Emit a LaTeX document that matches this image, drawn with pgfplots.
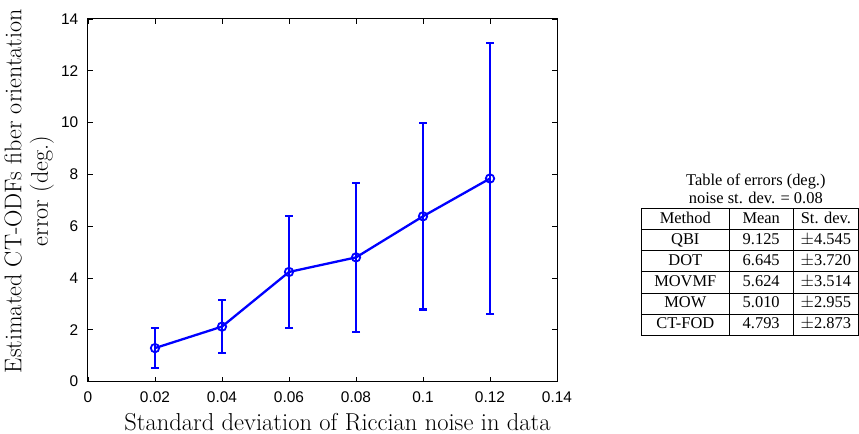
\documentclass[border=0pt]{standalone}
\usepackage{pgfplots}
\pgfplotsset{compat=1.18}
\usepackage{fontspec}
\usepackage{array}
\usetikzlibrary{calc}
\newfontfamily\helv{Liberation Sans}
\newfontfamily\tms{Liberation Serif}

\begin{document}
\begin{tikzpicture}
\begin{axis}[
  scale only axis,
  width=469bp, height=362.5bp,
  xmin=0, xmax=0.14, ymin=0, ymax=14,
  xtick={0,0.02,0.04,0.06,0.08,0.1,0.12,0.14},
  xticklabels={0,0.02,0.04,0.06,0.08,0.1,0.12,0.14},
  ytick={0,2,4,6,8,10,12,14},
  tick align=inside,
  major tick length=5bp,
  axis line style={line width=1bp},
  tick style={line width=0.8bp, black},
  ticklabel style={font=\helv\fontsize{15.5}{16}\selectfont, inner sep=0pt},
  /pgf/number format/assume math mode=true,
  xticklabel style={yshift=-10bp},
  yticklabel style={xshift=-9.5bp},
  xlabel={Standard deviation of Riccian noise in data},
  xlabel style={font=\fontsize{24.6}{29}\selectfont, at={(axis description cs:0.532,-0.1338)}, anchor=base},
  ylabel={Estimated CT-ODFs fiber orientation\\error (deg.)},
  ylabel style={align=center, font=\fontsize{24.2}{26.5}\selectfont, inner sep=0pt, at={(axis description cs:-0.0725,0.525)}, anchor=south, rotate=0},
  clip=false,
]
\addplot[blue, line width=2.3bp, mark=o, mark size=4.2bp,
  mark options={line width=1.8bp, solid},
  error bars/.cd, y dir=both, y explicit,
  error bar style={line width=2.3bp},
  error mark options={rotate=90, mark size=4bp, line width=2.2bp}]
coordinates {
  (0.02,1.29) +- (0,0.77)
  (0.04,2.12) +- (0,1.03)
  (0.06,4.23) +- (0,2.16)
  (0.08,4.793) +- (0,2.873)
  (0.10,6.38) +- (0,3.60)
  (0.12,7.84) +- (0,5.22)
};

\node[anchor=base, align=center, font=\tms\fontsize{16.5}{19}\selectfont]
  at (axis description cs:1.424,0.4897) {Table of errors (deg.)\\noise st. dev. = 0.08};

\node[anchor=north west, inner sep=0pt, font=\tms\fontsize{16.5}{16}\selectfont]
  at (axis description cs:1.1785,0.4786) {%
  \setlength\tabcolsep{0pt}%
  \setlength\arrayrulewidth{0.9bp}%
  \renewcommand\arraystretch{1.266}%
  \begin{tabular}{|>{\centering\arraybackslash}p{87bp}|>{\centering\arraybackslash}p{63bp}|>{\centering\arraybackslash}p{64.5bp}|}
  \hline
  Method & Mean & St. dev.\\ \hline
  QBI & 9.125 & $\pm$4.545\\ \hline
  DOT & 6.645 & $\pm$3.720\\ \hline
  MOVMF & 5.624 & $\pm$3.514\\ \hline
  MOW & 5.010 & $\pm$2.955\\ \hline
  CT-FOD & 4.793 & $\pm$2.873\\ \hline
  \end{tabular}};
\end{axis}
\pgfresetboundingbox
\path ($(current axis.south west)+(-88bp,-52.5bp)$) rectangle ++(859bp,434bp);
\end{tikzpicture}
\end{document}
